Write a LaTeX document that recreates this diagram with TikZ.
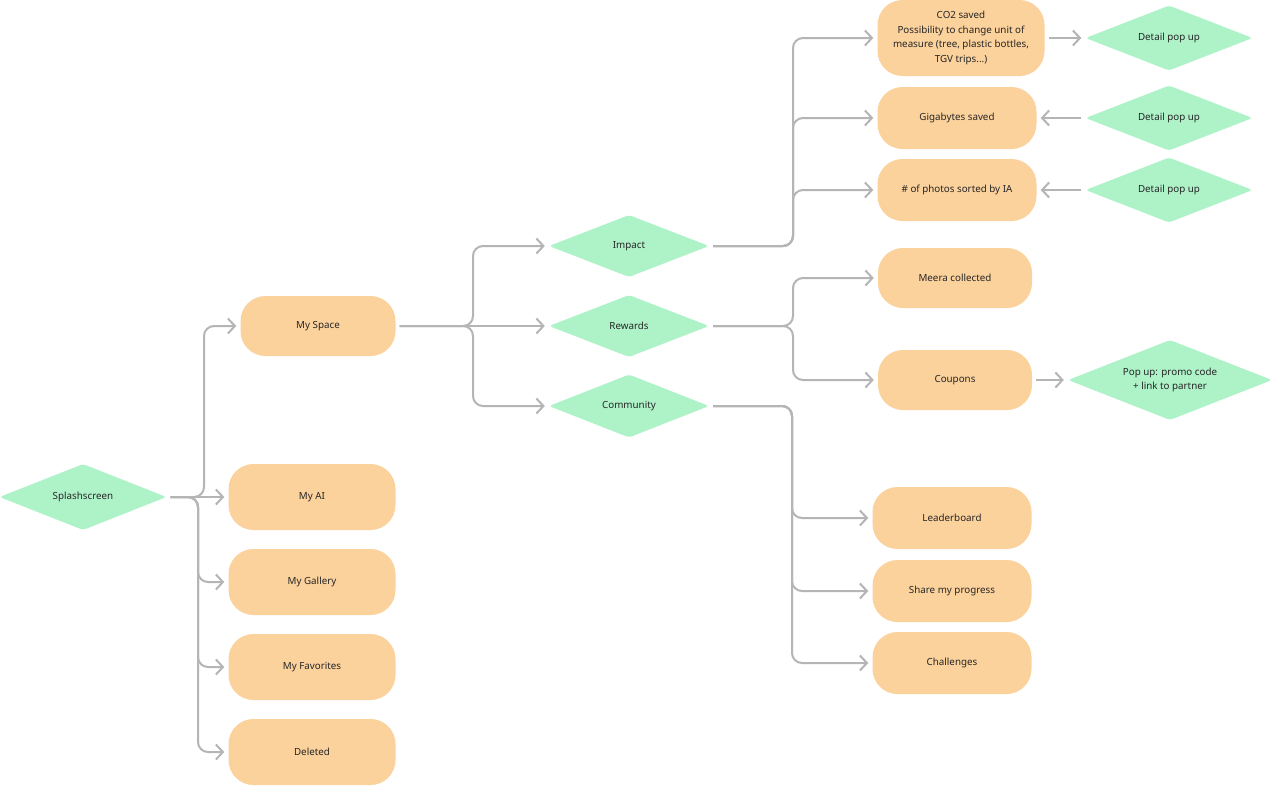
\documentclass[tikz,border=0pt]{standalone}
\usepackage{fontspec}
\setmainfont{Noto Sans}
\usetikzlibrary{shapes.geometric,arrows.meta}
\definecolor{boxc}{HTML}{FBD19C}
\definecolor{greenc}{HTML}{AEF2C8}
\definecolor{linc}{HTML}{B5B5B5}
\definecolor{txtc}{HTML}{262626}
\begin{document}
\begin{tikzpicture}[x=1pt,y=-1pt,
  box/.style={rectangle, rounded corners=25pt, fill=boxc, inner sep=0pt, text=txtc,
    font=\fontsize{9.8}{14.5}\selectfont, align=center},
  dia/.style={diamond, aspect=2.6, rounded corners=3pt, fill=greenc, inner sep=0pt, text=txtc,
    font=\fontsize{9.8}{14.5}\selectfont, align=center},
  conn/.style={draw=linc, line width=2pt, rounded corners=10pt,
    -{Straight Barb[length=7pt,width=15pt]}, shorten >=4pt, shorten <=4pt},
]
\useasboundingbox (0,0) rectangle (1272,785);
\fill[white] (0,0) rectangle (1272,785);

% nodes
\node[dia, minimum width=167, minimum height=66] (splash) at (83,497) {Splashscreen};
\node[box, minimum width=155, minimum height=60] (myspace) at (318,326) {My Space};
\node[box, minimum width=167, minimum height=66] (myai) at (312,497) {My AI};
\node[box, minimum width=167, minimum height=66] (mygallery) at (312,582) {My Gallery};
\node[box, minimum width=167, minimum height=66] (myfav) at (312,667) {My Favorites};
\node[box, minimum width=167, minimum height=66] (deleted) at (312,752) {Deleted};

\node[dia, minimum width=160, minimum height=62] (impact) at (629,246) {Impact};
\node[dia, minimum width=160, minimum height=62] (rewards) at (629,326) {Rewards};
\node[dia, minimum width=160, minimum height=63] (community) at (629,406) {Community};

\node[box, minimum width=167, minimum height=76] (co2) at (961,38) {CO2 saved\\Possibility to change unit of\\measure (tree, plastic bottles,\\TGV trips...)};
\node[box, minimum width=159, minimum height=62] (giga) at (957,118) {Gigabytes saved};
\node[box, minimum width=159, minimum height=62] (photos) at (957,190) {\# of photos sorted by IA};

\node[dia, minimum width=167, minimum height=65] (d1) at (1169,38) {Detail pop up};
\node[dia, minimum width=167, minimum height=65] (d2) at (1169,118) {Detail pop up};
\node[dia, minimum width=167, minimum height=65] (d3) at (1169,190) {Detail pop up};

\node[box, minimum width=154, minimum height=60] (meera) at (955,278) {Meera collected};
\node[box, minimum width=154, minimum height=60] (coupons) at (955,380) {Coupons};
\node[dia, minimum width=204, minimum height=80] (popup) at (1170,380) {Pop up: promo code\\+ link to partner};

\node[box, minimum width=159, minimum height=62] (leader) at (952,518) {Leaderboard};
\node[box, minimum width=159, minimum height=62] (share) at (952,591) {Share my progress};
\node[box, minimum width=159, minimum height=62] (chall) at (952,663) {Challenges};

% junctions
\coordinate (s1) at (204,497);
\coordinate (s2) at (198,497);
\coordinate (m1) at (473,326);
\coordinate (i1) at (793,246);
\coordinate (r1) at (793,326);
\coordinate (c1) at (792,406);

% connectors
\draw[conn] (splash.east) -- (s1) |- (myspace.west);
\draw[conn] (splash.east) -- (myai.west);
\draw[conn] (splash.east) -- (s2) |- (mygallery.west);
\draw[conn] (splash.east) -- (s2) |- (myfav.west);
\draw[conn] (splash.east) -- (s2) |- (deleted.west);

\draw[conn] (myspace.east) -- (m1) |- (impact.west);
\draw[conn] (myspace.east) -- (rewards.west);
\draw[conn] (myspace.east) -- (m1) |- (community.west);

\draw[conn] (impact.east) -- (i1) |- (co2.west);
\draw[conn] (impact.east) -- (i1) |- (giga.west);
\draw[conn] (impact.east) -- (i1) |- (photos.west);

\draw[conn] (co2.east) -- (d1.west);
\draw[conn] (d2.west) -- (giga.east);
\draw[conn] (d3.west) -- (photos.east);

\draw[conn] (rewards.east) -- (r1) |- (meera.west);
\draw[conn] (rewards.east) -- (r1) |- (coupons.west);
\draw[conn] (coupons.east) -- (popup.west);

\draw[conn] (community.east) -- (c1) |- (leader.west);
\draw[conn] (community.east) -- (c1) |- (share.west);
\draw[conn] (community.east) -- (c1) |- (chall.west);
\end{tikzpicture}
\end{document}
